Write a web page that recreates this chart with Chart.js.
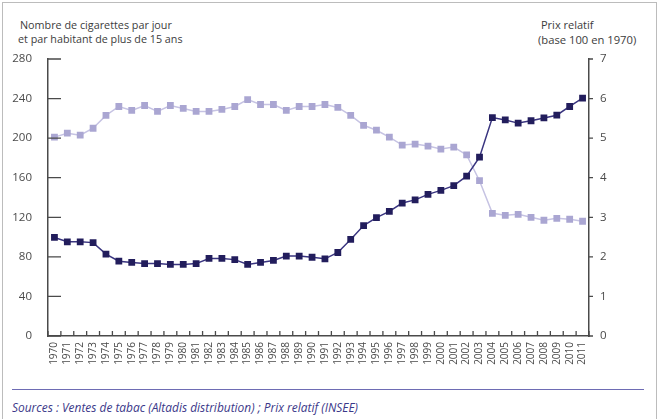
<!DOCTYPE html>
<html>
<head>
<meta charset="utf-8">
<script src="https://cdn.jsdelivr.net/npm/chart.js@4.4.0/dist/chart.umd.min.js"></script>
<style>
html, body { margin: 0; padding: 0; background: #fff; overflow: hidden; }
#cadre { position: absolute; left: 0; top: 0; width: 661px; height: 419px; }
#bord { position: absolute; left: 2px; top: 2px; width: 653px; height: 450px; border: 1.5px solid #bcbcbc; }
#trait { position: absolute; left: 12px; top: 389px; width: 632px; height: 0; border-top: 1.5px solid #6e6cb4; }
.txt { position: absolute; font-family: 'Open Sans', sans-serif; color: #3c3c3c; white-space: nowrap; line-height: 1; transform-origin: 0 50%; }
#lineChart { position: absolute; left: 0; top: 0; }
</style>
</head>
<body>
<div id="cadre">
  <div id="bord"></div>
  <div class="txt" data-w="152" style="left:20px;top:19px;font-size:11px">Nombre de cigarettes par jour</div>
  <div class="txt" data-w="165" style="left:18px;top:33px;font-size:11px">et par habitant de plus de 15 ans</div>
  <div class="txt" data-w="52" style="left:541px;top:19px;font-size:11px">Prix relatif</div>
  <div class="txt" data-w="98" style="left:538px;top:34px;font-size:11px">(base 100 en 1970)</div>
  <div id="trait"></div>
  <div class="txt" data-w="346" style="left:12px;top:401px;font-size:13px;font-style:italic;color:#3b3889">Sources : Ventes de tabac (Altadis distribution) ; Prix relatif (INSEE)</div>
  <canvas id="lineChart" width="661" height="419"></canvas>
</div>
<script>
// donnees
const annees = ['1970','1971','1972','1973','1974','1975','1976','1977','1978','1979',
  '1980','1981','1982','1983','1984','1985','1986','1987','1988','1989',
  '1990','1991','1992','1993','1994','1995','1996','1997','1998','1999',
  '2000','2001','2002','2003','2004','2005','2006','2007','2008','2009',
  '2010','2011'];

// nombre de cigarettes par jour et par habitant (axe gauche)
const cigarettes = [201, 205, 203, 210, 223, 232, 228, 233, 227, 233,
  230, 227, 227, 229, 232, 239, 234, 234, 228, 232,
  232, 234, 231, 223, 213, 208, 201, 193, 194, 192,
  189, 191, 183, 157, 124, 122, 123, 120, 117, 119,
  118, 116];

// prix relatif, base 100 en 1970 (axe droit)
const prixRelatif = [2.49, 2.38, 2.38, 2.36, 2.07, 1.89, 1.86, 1.83, 1.83, 1.81,
  1.81, 1.83, 1.96, 1.96, 1.93, 1.81, 1.86, 1.91, 2.02, 2.02,
  1.99, 1.95, 2.11, 2.44, 2.79, 2.99, 3.15, 3.36, 3.44, 3.58,
  3.68, 3.80, 4.04, 4.52, 5.52, 5.46, 5.38, 5.44, 5.51, 5.58,
  5.80, 6.01];

const bornesGauche = [0, 280];
const bornesDroite = [0, 7];

// ajuster la largeur des textes
document.querySelectorAll('.txt').forEach(function(el){
  var w = parseFloat(el.dataset.w);
  var actuel = el.offsetWidth;
  if (actuel > 0) el.style.transform = 'scaleX(' + (w / actuel) + ')';
});

// petits traits des axes (vers l'interieur a gauche et en bas, vers l'exterieur a droite)
const marquesAxes = {
  id: 'marquesAxes',
  afterDraw(chart) {
    const ctx = chart.ctx;
    const sx = chart.scales.x, sy = chart.scales.y, sy1 = chart.scales.y1;
    ctx.save();
    ctx.strokeStyle = '#4a4a4a';
    ctx.lineWidth = 1.3;
    ctx.beginPath();
    sy.ticks.forEach(function(t){
      const y = sy.getPixelForValue(t.value);
      ctx.moveTo(sy.right, y); ctx.lineTo(sy.right + 13, y);
    });
    sy1.ticks.forEach(function(t){
      const y = sy1.getPixelForValue(t.value);
      ctx.moveTo(sy1.left, y); ctx.lineTo(sy1.left + 4, y);
    });
    for (let i = 0; i <= annees.length; i++) {
      const x = sx.getPixelForValue(i - 0.5);
      ctx.moveTo(x, sx.top); ctx.lineTo(x, sx.top - 5);
    }
    ctx.stroke();
    ctx.restore();
  }
};

var ctxL = document.getElementById('lineChart').getContext('2d');
var myLineChart = new Chart(ctxL, {
  type: 'line',
  data: {
    labels: annees,
    datasets: [{
      label: 'Prix relatif',
      data: prixRelatif,
      yAxisID: 'y1',
      borderColor: '#3a3580',
      backgroundColor: '#221d5c',
      borderWidth: 1.5,
      pointStyle: 'rect',
      pointRadius: 4.8,
      pointBorderWidth: 0,
      pointBackgroundColor: '#221d5c',
      tension: 0
    }, {
      label: 'Cigarettes',
      data: cigarettes,
      yAxisID: 'y',
      borderColor: '#c6c3e3',
      backgroundColor: '#aaa6d2',
      borderWidth: 1.5,
      pointStyle: 'rect',
      pointRadius: 4.8,
      pointBorderWidth: 0,
      pointBackgroundColor: '#aaa6d2',
      tension: 0
    }]
  },
  options: {
    responsive: false,
    animation: false,
    layout: { padding: { top: 59, left: 0, right: 0, bottom: 0 } },
    plugins: { legend: { display: false }, tooltip: { enabled: false } },
    scales: {
      x: {
        offset: true,
        grid: { display: false, drawTicks: false, offset: true },
        border: { display: true, color: '#4a4a4a', width: 1.5 },
        ticks: {
          autoSkip: false, minRotation: 90, maxRotation: 90, padding: 6,
          color: '#4a4a4a', font: { family: 'Open Sans', size: 10 }
        },
        afterFit: function(s){ s.height = 83; }
      },
      y: {
        position: 'left',
        min: bornesGauche[0], max: bornesGauche[1],
        grid: { display: false, drawTicks: false },
        border: { display: true, color: '#4a4a4a', width: 1.5 },
        ticks: { stepSize: 40, padding: 16, color: '#4a4a4a', font: { family: 'Open Sans', size: 11.5 } },
        afterFit: function(s){ s.width = 48; }
      },
      y1: {
        position: 'right',
        min: bornesDroite[0], max: bornesDroite[1],
        grid: { display: false, drawTicks: false },
        border: { display: true, color: '#4a4a4a', width: 1.5 },
        ticks: { stepSize: 1, padding: 11, color: '#4a4a4a', font: { family: 'Open Sans', size: 11.5 } },
        afterFit: function(s){ s.width = 72; }
      }
    }
  },
  plugins: [marquesAxes]
});
</script>
</body>
</html>
